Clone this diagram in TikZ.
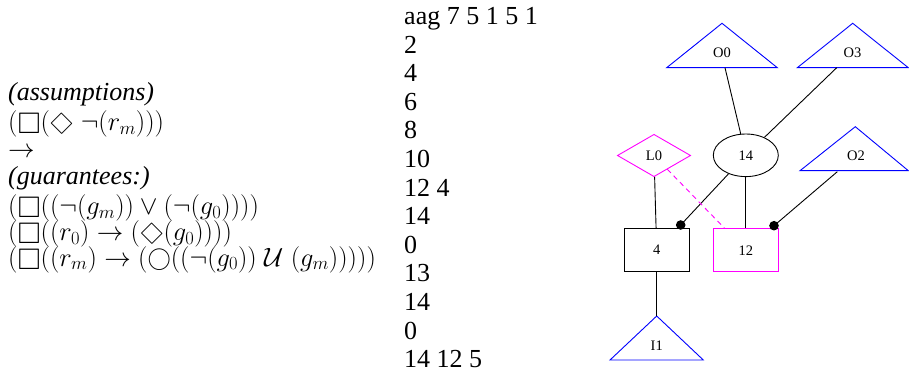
\RequirePackage{fix-cm}
\documentclass[tikz,border=0pt]{standalone}
\usepackage{amssymb}
\usepackage{graphicx}
\usepackage{fontspec}
\setmainfont{Liberation Serif}
\usetikzlibrary{shapes.geometric}
\definecolor{mag}{RGB}{255,0,255}
\definecolor{triblue}{RGB}{0,0,255}
\newcommand{\mybox}{\mathord{\vcenter{\hbox{\scalebox{1.12}{$\square$}}}}}
\newcommand{\mydia}{\mathord{\vcenter{\hbox{\scalebox{0.86}{\rotatebox{45}{$\square$}}}}}}
\newcommand{\mycirc}{\mathord{\vcenter{\hbox{\scalebox{0.88}{$\bigcirc$}}}}}
\tikzset{
  lt/.style={anchor=base west, inner sep=0pt, font=\fontsize{26}{30}\selectfont},
  lm/.style={anchor=base west, inner sep=0pt, font=\fontsize{26.5}{30}\selectfont},
  mt/.style={anchor=base west, inner sep=0pt, font=\fontsize{26}{30}\selectfont},
  gl/.style={font=\fontsize{14.5}{16}\selectfont, inner sep=0pt},
  edge/.style={line width=0.9pt, black},
  tri/.style={line width=0.9pt, draw=triblue},
  boxn/.style={draw, line width=0.9pt, rectangle, minimum width=65.3pt, minimum height=43pt, inner sep=0pt, font=\fontsize{14.5}{16}\selectfont},
  elln/.style={draw, line width=0.9pt, ellipse, minimum width=65pt, minimum height=42.6pt, inner sep=0pt, font=\fontsize{14.5}{16}\selectfont},
  dian/.style={draw=mag, line width=0.9pt, diamond, minimum width=73.3pt, minimum height=42.4pt, inner sep=0pt, font=\fontsize{14.5}{16}\selectfont},
}
\begin{document}
\begin{tikzpicture}[x=1pt, y=-1pt]
\useasboundingbox (0,0) rectangle (909,379);
% left column
\node[lt] (a1) at (8,101) {\itshape (assumptions)};
\node[lm] (a2) at (8,130.5) {$(\mybox(\mydia\;\neg(r_m)))$};
\node[lm] (a3) at (8,158) {$\rightarrow$};
\node[lt] (a4) at (8,185) {\itshape (guarantees:)};
\node[lm] (a5) at (8,214.5) {$(\mybox((\neg(g_m))\lor(\neg(g_0))))$};
\node[lm] (a6) at (8,240.5) {$(\mybox((r_0)\rightarrow(\mydia(g_0))))$};
\node[lm] (a7) at (8,266) {$(\mybox((r_m)\rightarrow(\mycirc((\neg(g_0))\;\mathcal{U}\;(g_m)))))$};
% middle column
\foreach \t [count=\k from 0] in {aag 7 5 1 5 1,2,4,6,8,10,12 4,14,0,13,14,0,14 12 5}{
  \node[mt] (m\k) at (404,24.5+28.6*\k) {\t};
}
% graph: triangles
\coordinate (o0t) at (722,23.3); \coordinate (o0l) at (666.7,67.7); \coordinate (o0r) at (777.3,67.7);
\coordinate (o3t) at (852.7,23.3); \coordinate (o3l) at (797.3,67.7); \coordinate (o3r) at (908.3,67.7);
\coordinate (o2t) at (855.3,126.7); \coordinate (o2l) at (800,170.7); \coordinate (o2r) at (908.3,170.7);
\coordinate (i1t) at (656.7,316); \coordinate (i1l) at (610,360); \coordinate (i1r) at (703.3,360);
\draw[tri] (o0l) -- (o0t) -- (o0r) -- cycle;
\draw[tri] (o3l) -- (o3t) -- (o3r) -- cycle;
\draw[tri] (o2l) -- (o2t) -- (o2r) -- cycle;
\draw[tri] (i1l) -- (i1t) -- (i1r) -- cycle;
\node[gl] (o0) at (722,53) {O0};
\node[gl] (o3) at (852.5,53) {O3};
\node[gl] (o2) at (856,156) {O2};
\node[gl] (i1) at (656.7,346) {I1};
% other nodes
\node[elln] (n14) at (745.8,155.3) {14};
\node[dian] (l0) at (654,155.5) {L0};
\node[boxn] (b4) at (656.7,250.2) {4};
\node[boxn, draw=mag] (b12) at (745.8,250.2) {12};
% edge end points
\coordinate (o0e) at (725,67.7);
\coordinate (o3e) at (836.7,67.7);
\coordinate (o2e) at (837.3,171.7);
\coordinate (d4) at (680.7,225);
\coordinate (d12) at (774,225.7);
% edges
\draw[edge] (o0e) -- (n14);
\draw[edge] (o3e) -- (n14);
\draw[edge] (n14) -- (d4);
\fill (d4) circle (4.8pt);
\draw[edge] (n14) -- (b12);
\draw[edge] (o2e) -- (d12);
\fill (d12) circle (4.8pt);
\draw[edge] (l0) -- (b4);
\draw[edge, draw=mag, dash pattern=on 5pt off 4pt] (l0) -- (b12);
\draw[edge] (b4) -- (i1t);
\end{tikzpicture}
\end{document}
